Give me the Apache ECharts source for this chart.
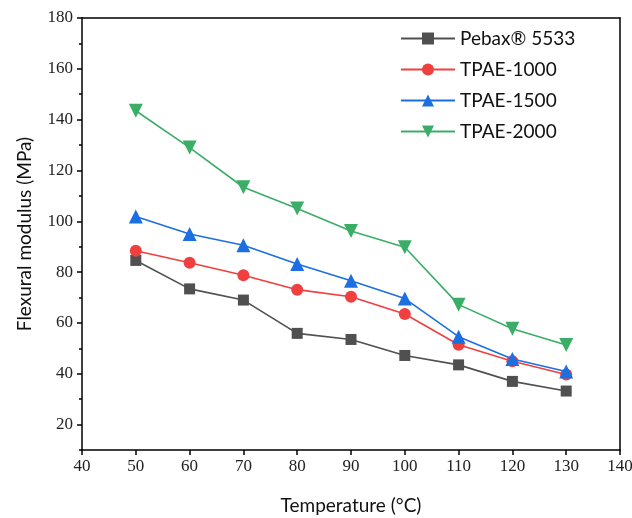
<!DOCTYPE html>
<html>
<head>
<meta charset="utf-8">
<script src="https://cdn.jsdelivr.net/npm/echarts@6/dist/echarts.min.js"></script>
<style>
  html, body { margin: 0; padding: 0; background: #fff; }
  #chart { width: 632px; height: 518px; }
</style>
</head>
<body>
<div id="chart"></div>
<script>
// Flexural modulus vs. temperature for four elastomer grades
const temperatures = [50, 60, 70, 80, 90, 100, 110, 120, 130];
const pebax5533 = [84.6, 73.4, 69.0, 55.9, 53.5, 47.2, 43.5, 37.0, 33.2];
const tpae1000  = [88.4, 83.7, 78.8, 73.1, 70.3, 63.5, 51.4, 44.9, 39.7];
const tpae1500  = [101.9, 95.0, 90.6, 83.2, 76.6, 69.6, 54.6, 45.8, 40.9];
const tpae2000  = [143.5, 129.0, 113.4, 105.0, 96.2, 89.8, 67.2, 57.7, 51.3];

const yMajorTicks = [20, 40, 60, 80, 100, 120, 140, 160, 180];
const yMinorTicks = [10, 30, 50, 70, 90, 110, 130, 150, 170];

const seriesNames = ['Pebax® 5533', 'TPAE-1000', 'TPAE-1500', 'TPAE-2000'];
const seriesValues = [pebax5533, tpae1000, tpae1500, tpae2000];
const seriesColors = ['#505050', '#ef3f3f', '#1c6fe0', '#3aad66'];
const seriesSymbols = ['rect', 'circle', 'triangle', 'path://M0,0 L10,0 L5,9 Z'];
const symbolSizes = [11, 12, 14, 14];

const labelFont = { fontFamily: 'Liberation Serif', fontSize: 17, color: '#222' };
const nameFont = { fontFamily: 'Lato', fontSize: 19, color: '#111' };
const axisLineStyle = { color: '#000', width: 1.5 };

const chart = echarts.init(document.getElementById('chart'), null, { renderer: 'canvas' });

chart.setOption({
  animation: false,
  backgroundColor: '#fff',
  grid: { left: 82, right: 12, top: 18, bottom: 68, containLabel: false, outerBoundsMode: 'none' },
  legend: {
    orient: 'vertical',
    left: 395,
    top: 24,
    itemWidth: 54,
    itemHeight: 15,
    itemGap: 12,
    textStyle: { fontFamily: 'Lato', fontSize: 19, color: '#111' },
    data: seriesNames
  },
  xAxis: [
    {
      type: 'value',
      min: 40, max: 140, interval: 10,
      name: 'Temperature (°C)',
      nameLocation: 'middle',
      nameGap: 46,
      nameTextStyle: nameFont,
      axisLine: { show: true, lineStyle: axisLineStyle },
      axisTick: { show: true, length: 5, inside: false, lineStyle: axisLineStyle },
      axisLabel: Object.assign({ margin: 8 }, labelFont),
      splitLine: { show: false }
    },
    {
      type: 'value', position: 'top',
      min: 40, max: 140, interval: 10,
      axisLine: { show: true, onZero: false, lineStyle: axisLineStyle },
      axisTick: { show: false },
      axisLabel: { show: false },
      splitLine: { show: false }
    }
  ],
  yAxis: [
    {
      type: 'value',
      min: 10, max: 180,
      name: 'Flexural modulus (MPa)',
      nameLocation: 'middle',
      nameGap: 48,
      nameTextStyle: nameFont,
      axisLine: { show: true, onZero: false, lineStyle: axisLineStyle },
      axisTick: { show: true, length: 5, customValues: yMajorTicks, lineStyle: axisLineStyle },
      axisLabel: Object.assign({ margin: 9, customValues: yMajorTicks }, labelFont),
      splitLine: { show: false }
    },
    {
      type: 'value', position: 'left',
      min: 10, max: 180,
      axisLine: { show: false },
      axisTick: { show: true, length: 3, customValues: yMinorTicks, lineStyle: axisLineStyle },
      axisLabel: { show: false },
      splitLine: { show: false }
    },
    {
      type: 'value', position: 'right',
      min: 10, max: 180,
      axisLine: { show: true, onZero: false, lineStyle: axisLineStyle },
      axisTick: { show: false },
      axisLabel: { show: false },
      splitLine: { show: false }
    }
  ],
  series: seriesNames.map((name, i) => ({
    name: name,
    type: 'line',
    xAxisIndex: 0,
    yAxisIndex: 0,
    data: temperatures.map((t, j) => [t, seriesValues[i][j]]),
    symbol: seriesSymbols[i],
    symbolSize: symbolSizes[i],
    showSymbol: true,
    color: seriesColors[i],
    lineStyle: { color: seriesColors[i], width: 1.6 },
    itemStyle: { color: seriesColors[i] },
    z: 2 + i
  }))
});
</script>
</body>
</html>
